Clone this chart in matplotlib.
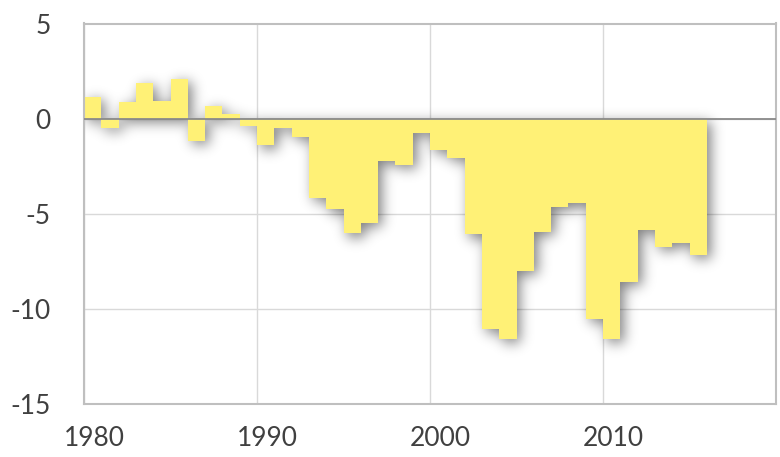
import numpy as np
import matplotlib
matplotlib.use("Agg")
import matplotlib.pyplot as plt
from matplotlib.transforms import ScaledTranslation

years = list(range(1980, 2016))
values = [1.15, -0.47, 0.89, 1.89, 0.94, 2.08, -1.16, 0.68, 0.26, -0.39,
          -1.40, -0.48, -0.95, -4.16, -4.77, -6.03, -5.47, -2.21, -2.44, -0.74,
          -1.65, -2.07, -6.08, -11.07, -11.60, -8.00, -5.96, -4.63, -4.45, -10.55,
          -11.56, -8.57, -5.85, -6.76, -6.52, -7.15]
x_ticks = [1980, 1990, 2000, 2010]
y_ticks = [-15, -10, -5, 0, 5]

plt.rcParams['axes.unicode_minus'] = False

X0, X1, Y0, Y1 = 1980, 2020, -15, 5


def gaussian_blur(a, sigma):
    r = int(3 * sigma)
    k = np.exp(-0.5 * (np.arange(-r, r + 1) / sigma) ** 2)
    k /= k.sum()
    a = np.apply_along_axis(np.convolve, 0, a, k, mode='same')
    a = np.apply_along_axis(np.convolve, 1, a, k, mode='same')
    return a


# raster of the step area in axes pixels, shifted and blurred -> drop shadow
def shadow_image(w, h, dx=4, dy=4, sigma=6.5, alpha=0.5):
    xc = X0 + (np.arange(w) + 0.5) * (X1 - X0) / w
    yc = Y1 - (np.arange(h) + 0.5) * (Y1 - Y0) / h
    idx = np.floor(xc - years[0]).astype(int)
    v = np.array([values[i] if 0 <= i < len(values) else 0.0 for i in idx])
    lo = np.minimum(v, 0)
    hi = np.maximum(v, 0)
    mask = ((yc[:, None] >= lo[None, :]) & (yc[:, None] <= hi[None, :])).astype(float)
    pad = 30
    mask = np.pad(mask, pad)
    mask = np.roll(mask, (dy, dx), axis=(0, 1))
    blur = gaussian_blur(mask, sigma)[pad:-pad, pad:-pad]
    img = np.zeros((h, w, 4))
    img[:, :, 3] = np.clip(blur * alpha, 0, 1)
    return img


fig = plt.figure(figsize=(7.8, 4.57), dpi=100)
ax = fig.add_axes([84 / 780, 1 - 404 / 457, 692 / 780, 380.5 / 457])

ax.imshow(shadow_image(692, 380), extent=(X0, X1, Y0, Y1), aspect='auto',
          interpolation='bilinear', zorder=1)
edges = years + [years[-1] + 1]
ax.stairs(values, edges, baseline=0, fill=True, color='#fff176', lw=0, zorder=2)
ax.axhline(0, color='#8a8a8a', lw=1.3, zorder=3)

ax.set_xlim(X0, X1)
ax.set_ylim(Y0, Y1)
ax.set_xticks(x_ticks)
ax.set_yticks(y_ticks)
ax.grid(True, color='#d9d9d9', lw=1, zorder=0)
ax.set_axisbelow(True)
ax.tick_params(length=0, labelsize=19, labelcolor='#404040')
ax.tick_params(axis='y', pad=24)
ax.tick_params(axis='x', pad=16)
for lbl in ax.get_xticklabels() + ax.get_yticklabels():
    lbl.set_family('Lato')
for lbl in ax.get_xticklabels():
    lbl.set_transform(lbl.get_transform() + ScaledTranslation(0.1, 0, fig.dpi_scale_trans))
for s in ax.spines.values():
    s.set_color('#bfbfbf')
    s.set_linewidth(1.5)

fig.savefig('out.png', dpi=100)
